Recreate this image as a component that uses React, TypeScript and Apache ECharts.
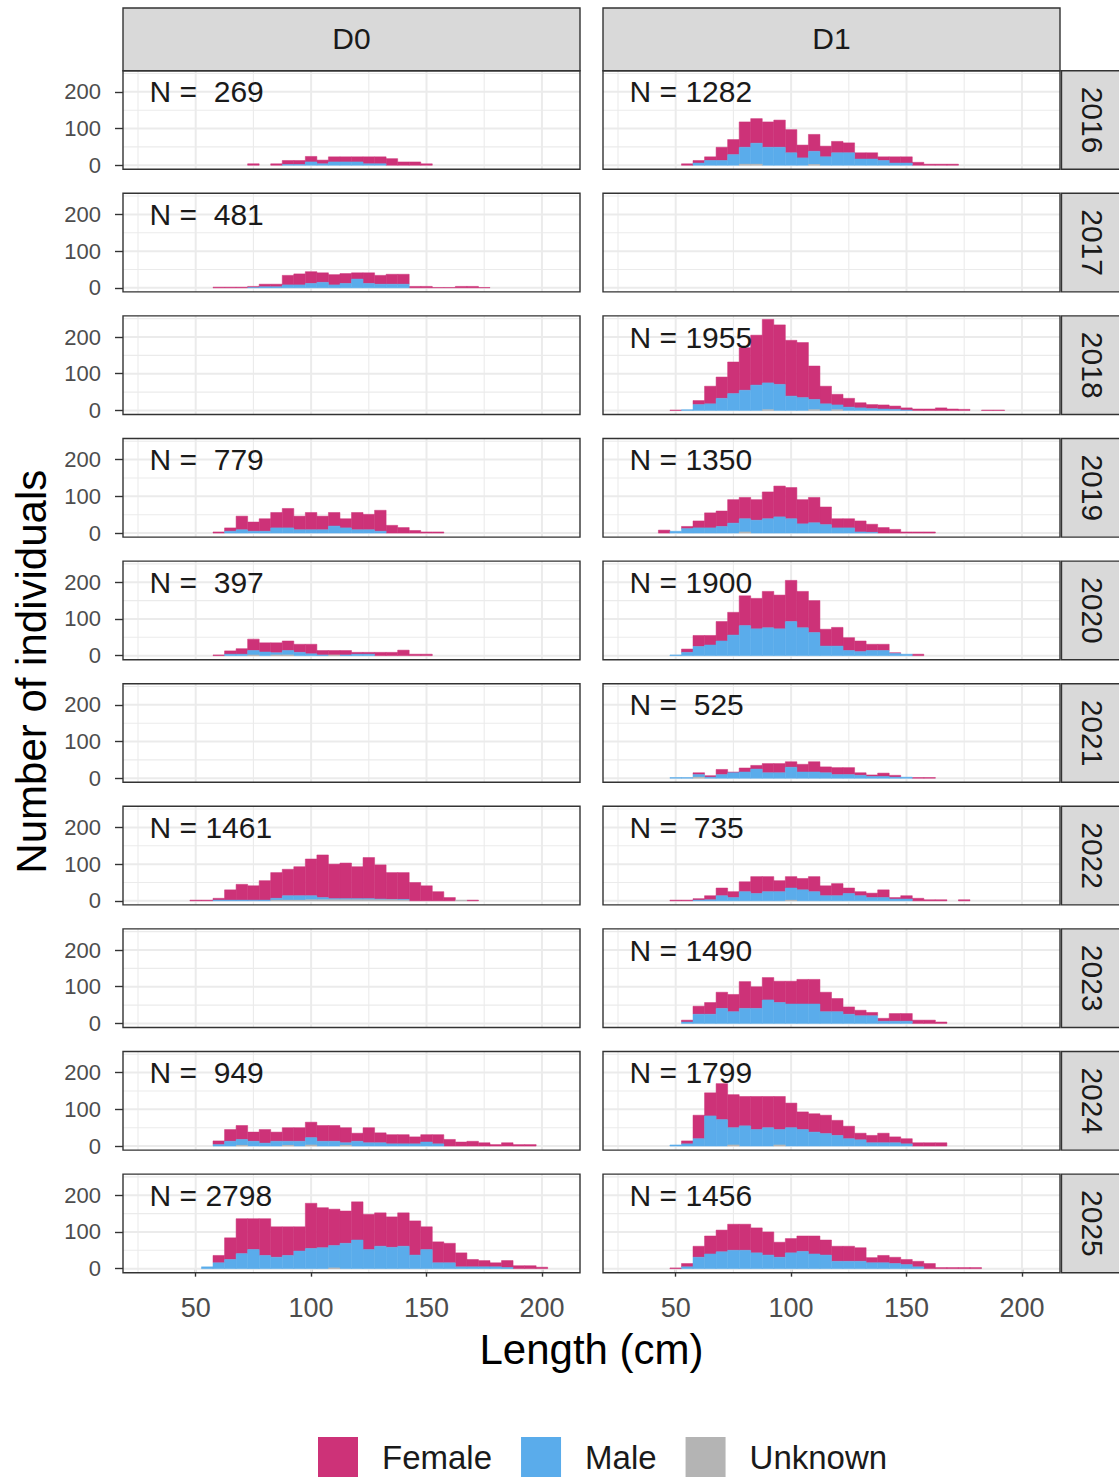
import React, { useEffect, useRef } from 'react';
import * as echarts from 'echarts';

const FONT = "'Liberation Sans', Arial, Helvetica, sans-serif";

const COLUMNS = ['D0', 'D1'];
const YEARS = [2016, 2017, 2018, 2019, 2020, 2021, 2022, 2023, 2024, 2025];
const SEXES = ['Female', 'Male', 'Unknown'];
const SEX_COLORS = ['#CD3278', '#5AACEB', '#B4B4B4'];
const BIN_WIDTH = 5;

const X_TICKS = [50, 100, 150, 200];
const X_MINOR = [25, 75, 125, 175];
const Y_TICKS = [0, 100, 200];
const Y_MINOR = [50, 150, 250];

// sample sizes per year (null = no data)
const N_D0 = [269, 481, null, 779, 397, null, 1461, null, 949, 2798];
const N_D1 = [1282, null, 1955, 1350, 1900, 525, 735, 1490, 1799, 1456];

// histogram counts per 5 cm bin; START = centre of first bin
const D0_2016_START = 75;
const D0_2016_F = [4, 0, 4, 11, 11, 15, 10, 14, 14, 14, 19, 19, 18, 9, 9, 4];
const D0_2016_M = [0, 0, 0, 2, 2, 9, 4, 9, 9, 9, 4, 4, 0, 0, 0, 0];
const D0_2016_U: number[] = [];

const D1_2016_START = 55;
const D1_2016_F = [4, 7, 10, 36, 41, 69, 67, 69, 74, 63, 35, 46, 29, 31, 27, 17, 17, 10, 17, 17, 8, 3, 3, 3];
const D1_2016_M = [0, 6, 13, 13, 29, 46, 57, 49, 49, 34, 20, 36, 23, 34, 34, 17, 17, 13, 6, 6, 0, 0, 0, 0];
const D1_2016_U = [0, 0, 0, 0, 0, 3, 3, 0, 0, 0, 0, 2];

const D0_2017_START = 60;
const D0_2017_F = [2, 2, 2, 3, 7, 7, 26, 30, 32, 26, 28, 27, 17, 29, 24, 27, 27, 4, 4, 1, 1, 4, 4, 1];
const D0_2017_M = [0, 0, 0, 1, 3, 3, 8, 8, 12, 15, 8, 12, 24, 12, 10, 10, 10, 0, 0, 0, 0, 0, 0, 0];
const D0_2017_U: number[] = [];

const D1_2018_START = 50;
const D1_2018_F = [1, 0, 11, 48, 58, 86, 116, 136, 173, 162, 152, 150, 91, 48, 29, 24, 14, 11, 11, 9, 6, 4, 4, 7, 4, 3, 0, 1, 1];
const D1_2018_M = [0, 2, 16, 18, 33, 46, 55, 69, 73, 71, 39, 35, 28, 18, 13, 9, 7, 5, 4, 3, 1];
const D1_2018_U = [0, 0, 0, 0, 0, 0, 0, 0, 2, 0, 0, 0, 2, 0, 2];

const D0_2019_START = 60;
const D0_2019_F = [3, 9, 37, 25, 34, 42, 53, 37, 47, 37, 37, 25, 47, 42, 57, 21, 15, 7, 3, 3];
const D0_2019_M = [0, 5, 9, 5, 5, 14, 14, 9, 9, 9, 19, 14, 9, 9, 5];
const D0_2019_U: number[] = [];

const D1_2019_START = 45;
const D1_2019_F = [8, 0, 6, 19, 41, 42, 64, 58, 56, 73, 84, 85, 66, 69, 48, 25, 25, 30, 22, 15, 10, 3, 3, 3];
const D1_2019_M = [0, 5, 12, 14, 14, 18, 27, 36, 35, 39, 44, 39, 25, 28, 23, 14, 14, 3, 2];
const D1_2019_U = [0, 0, 0, 0, 0, 0, 0, 3];

const D0_2020_START = 60;
const D0_2020_F = [2, 9, 15, 31, 25, 27, 26, 22, 26, 12, 12, 12, 5, 5, 9, 9, 15, 4, 4];
const D0_2020_M = [0, 4, 4, 12, 10, 6, 12, 9, 5, 2, 0, 2, 4, 4];
const D0_2020_U = [0, 0, 0, 2, 0, 2, 2, 0, 0, 0, 2];

const D1_2020_START = 50;
const D1_2020_F = [0, 9, 30, 26, 53, 62, 81, 83, 99, 92, 112, 99, 87, 46, 51, 35, 29, 17, 17, 2, 0, 4];
const D1_2020_M = [2, 9, 25, 29, 40, 56, 82, 73, 76, 73, 93, 76, 63, 26, 26, 14, 11, 14, 14, 6, 4, 0];
const D1_2020_U: number[] = [];

const D1_2021_START = 50;
const D1_2021_F = [0, 0, 5, 4, 14, 2, 11, 10, 25, 25, 15, 21, 28, 16, 19, 19, 7, 4, 9, 5, 0, 2, 2];
const D1_2021_M = [2, 2, 7, 3, 10, 15, 17, 25, 15, 15, 30, 17, 17, 15, 10, 10, 8, 5, 5, 3, 3, 0, 0];
const D1_2021_U = [0, 0, 3];

const D0_2022_START = 50;
const D0_2022_F = [2, 2, 5, 28, 43, 39, 53, 70, 72, 79, 100, 116, 94, 97, 87, 112, 93, 73, 73, 50, 41, 25, 9, 0, 2];
const D0_2022_M = [0, 0, 2, 2, 2, 2, 2, 5, 12, 12, 11, 6, 3, 3, 3, 3, 2, 1, 2];
const D0_2022_U = [0, 0, 0, 0, 0, 0, 0, 2, 2, 2, 3, 3, 3, 3, 3, 3, 3, 3, 2, 0, 0, 0, 0, 2, 0];

const D1_2022_START = 50;
const D1_2022_F = [2, 2, 4, 11, 21, 16, 27, 46, 41, 30, 31, 31, 41, 27, 33, 15, 11, 12, 21, 4, 9, 7, 3, 3, 0, 3];
const D1_2022_M = [0, 0, 2, 3, 14, 9, 25, 20, 25, 25, 33, 30, 25, 14, 14, 20, 14, 9, 9, 5, 5];
const D1_2022_U = [0, 0, 0, 0, 0, 0, 0, 0, 0, 0, 2];

const D1_2023_START = 55;
const D1_2023_F = [5, 22, 32, 44, 47, 73, 59, 61, 58, 62, 67, 67, 53, 36, 20, 15, 9, 8, 21, 21, 9, 9, 4];
const D1_2023_M = [4, 25, 25, 41, 32, 41, 41, 64, 57, 53, 53, 53, 32, 32, 25, 21, 21, 6, 6, 6];
const D1_2023_U: number[] = [];

const D0_2024_START = 60;
const D0_2024_F = [10, 32, 38, 25, 37, 25, 37, 37, 42, 43, 43, 41, 22, 41, 27, 25, 25, 19, 20, 25, 18, 11, 13, 9, 4, 9, 4, 4];
const D0_2024_M = [4, 13, 16, 13, 8, 13, 11, 13, 20, 13, 13, 7, 13, 9, 9, 6, 6, 6, 11, 6];
const D0_2024_U = [0, 0, 2, 0, 0, 0, 2, 0, 3, 0, 0, 2];

const D1_2024_START = 50;
const D1_2024_F = [0, 8, 64, 63, 98, 90, 80, 90, 85, 90, 67, 48, 50, 50, 41, 34, 18, 20, 26, 16, 14, 9, 9, 9];
const D1_2024_M = [3, 6, 20, 82, 72, 47, 55, 45, 50, 42, 50, 45, 38, 34, 29, 20, 17, 9, 9, 9, 6];
const D1_2024_U = [0, 0, 0, 0, 0, 3, 0, 0, 0, 3];

const D0_2025_START = 55;
const D0_2025_F = [0, 20, 59, 95, 84, 100, 83, 78, 66, 123, 109, 99, 88, 104, 96, 91, 83, 91, 93, 62, 57, 53, 38, 20, 17, 11, 19, 8, 8, 4];
const D0_2025_M = [5, 16, 25, 41, 52, 36, 31, 36, 48, 55, 57, 61, 69, 78, 52, 61, 58, 61, 37, 52, 16, 16, 5, 5, 5, 5, 3];
const D0_2025_U = [0, 0, 0, 0, 0, 0, 0, 0, 0, 0, 0, 2];

const D1_2025_START = 50;
const D1_2025_F = [2, 9, 30, 49, 59, 71, 71, 68, 63, 41, 39, 42, 49, 41, 41, 41, 37, 14, 20, 17, 14, 15, 14, 3, 3, 3, 3];
const D1_2025_M = [0, 5, 31, 40, 46, 50, 50, 43, 37, 31, 43, 47, 40, 37, 20, 20, 20, 16, 16, 14, 11, 5];
const D1_2025_U: number[] = [];

type Panel = { col: number; year: number; start: number; f: number[]; m: number[]; u: number[] };

const PANELS: Panel[] = [
  { col: 0, year: 2016, start: D0_2016_START, f: D0_2016_F, m: D0_2016_M, u: D0_2016_U },
  { col: 1, year: 2016, start: D1_2016_START, f: D1_2016_F, m: D1_2016_M, u: D1_2016_U },
  { col: 0, year: 2017, start: D0_2017_START, f: D0_2017_F, m: D0_2017_M, u: D0_2017_U },
  { col: 1, year: 2018, start: D1_2018_START, f: D1_2018_F, m: D1_2018_M, u: D1_2018_U },
  { col: 0, year: 2019, start: D0_2019_START, f: D0_2019_F, m: D0_2019_M, u: D0_2019_U },
  { col: 1, year: 2019, start: D1_2019_START, f: D1_2019_F, m: D1_2019_M, u: D1_2019_U },
  { col: 0, year: 2020, start: D0_2020_START, f: D0_2020_F, m: D0_2020_M, u: D0_2020_U },
  { col: 1, year: 2020, start: D1_2020_START, f: D1_2020_F, m: D1_2020_M, u: D1_2020_U },
  { col: 1, year: 2021, start: D1_2021_START, f: D1_2021_F, m: D1_2021_M, u: D1_2021_U },
  { col: 0, year: 2022, start: D0_2022_START, f: D0_2022_F, m: D0_2022_M, u: D0_2022_U },
  { col: 1, year: 2022, start: D1_2022_START, f: D1_2022_F, m: D1_2022_M, u: D1_2022_U },
  { col: 1, year: 2023, start: D1_2023_START, f: D1_2023_F, m: D1_2023_M, u: D1_2023_U },
  { col: 0, year: 2024, start: D0_2024_START, f: D0_2024_F, m: D0_2024_M, u: D0_2024_U },
  { col: 1, year: 2024, start: D1_2024_START, f: D1_2024_F, m: D1_2024_M, u: D1_2024_U },
  { col: 0, year: 2025, start: D0_2025_START, f: D0_2025_F, m: D0_2025_M, u: D0_2025_U },
  { col: 1, year: 2025, start: D1_2025_START, f: D1_2025_F, m: D1_2025_M, u: D1_2025_U },
];

// layout
const X_MIN = 18.5;
const X_MAX = 216.5;
const Y_MIN = -11;
const Y_MAX = 257.5;
const N_LABEL_X = 30;
const N_LABEL_Y = 200;
const COL_LEFT = [123, 603];
const PANEL_W = 457;
const ROW_TOP0 = 70.7;
const ROW_STEP = 122.6;
const PANEL_H = 98.6;
const STRIP_TOP = 8;
const STRIP_SIZE = 62.7;

function buildOption() {
  const grid: any[] = [];
  const xAxis: any[] = [];
  const yAxis: any[] = [];
  const series: any[] = [];

  const gridLineData = [
    ...X_TICKS.map((v) => [v, 0, 1]),
    ...X_MINOR.map((v) => [v, 0, 0]),
    ...Y_TICKS.map((v) => [v, 1, 1]),
    ...Y_MINOR.map((v) => [v, 1, 0]),
  ];

  YEARS.forEach((year, r) => {
    COLUMNS.forEach((_, c) => {
      const idx = r * 2 + c;
      grid.push({
        left: COL_LEFT[c],
        top: ROW_TOP0 + ROW_STEP * r,
        width: PANEL_W,
        height: PANEL_H,
        show: true,
        borderColor: '#333333',
        borderWidth: 1.4,
        backgroundColor: 'transparent',
        z: 10,
        containLabel: false,
        outerBoundsMode: 'none',
      });
      const bottom = r === YEARS.length - 1;
      xAxis.push({
        gridIndex: idx,
        type: 'value',
        min: X_MIN,
        max: X_MAX,
        axisLine: { show: false },
        splitLine: { show: false },
        axisTick: {
          show: bottom,
          customValues: X_TICKS,
          length: 8,
          lineStyle: { color: '#333333', width: 1.4 },
        },
        axisLabel: {
          show: bottom,
          customValues: X_TICKS,
          fontSize: 27,
          color: '#4D4D4D',
          margin: 22,
          fontFamily: FONT,
        },
      });
      yAxis.push({
        gridIndex: idx,
        type: 'value',
        min: Y_MIN,
        max: Y_MAX,
        axisLine: { show: false },
        splitLine: { show: false },
        axisTick: {
          show: c === 0,
          customValues: Y_TICKS,
          length: 8,
          lineStyle: { color: '#333333', width: 1.4 },
        },
        axisLabel: {
          show: c === 0,
          customValues: Y_TICKS,
          fontSize: 22,
          color: '#4D4D4D',
          margin: 22,
          fontFamily: FONT,
        },
      });
      // grid lines
      series.push({
        type: 'custom',
        xAxisIndex: idx,
        yAxisIndex: idx,
        silent: true,
        z: 1,
        data: gridLineData,
        renderItem: (params: any, api: any) => {
          const cs = params.coordSys;
          const v = api.value(0);
          const dir = api.value(1);
          const major = api.value(2);
          const style = { stroke: '#EBEBEB', lineWidth: major ? 2 : 1.1 };
          if (dir === 0) {
            const x = api.coord([v, 0])[0];
            return { type: 'line', shape: { x1: x, y1: cs.y, x2: x, y2: cs.y + cs.height }, style };
          }
          const y = api.coord([100, v])[1];
          return { type: 'line', shape: { x1: cs.x, y1: y, x2: cs.x + cs.width, y2: y }, style };
        },
      });
    });
  });

  PANELS.forEach((p) => {
    const r = YEARS.indexOf(p.year);
    const idx = r * 2 + p.col;
    const stacks: number[][][] = [[], [], []];
    p.f.forEach((fv, i) => {
      const u = p.u[i] || 0;
      const m = p.m[i] || 0;
      const f = fv || 0;
      const x = p.start + i * BIN_WIDTH;
      if (u > 0) stacks[2].push([x, 0, u]);
      if (m > 0) stacks[1].push([x, u, u + m]);
      if (f > 0) stacks[0].push([x, u + m, u + m + f]);
    });
    SEXES.forEach((name, s) => {
      const color = SEX_COLORS[s];
      series.push({
        type: 'custom',
        name,
        xAxisIndex: idx,
        yAxisIndex: idx,
        silent: true,
        z: 2,
        itemStyle: { color },
        encode: { x: 0, y: [1, 2] },
        data: stacks[s],
        renderItem: (params: any, api: any) => {
          const x = api.value(0);
          const b = api.value(1);
          const t = api.value(2);
          const p0 = api.coord([x - BIN_WIDTH / 2, b]);
          const p1 = api.coord([x + BIN_WIDTH / 2, t]);
          return {
            type: 'rect',
            shape: { x: p0[0], y: p1[1], width: p1[0] - p0[0], height: p0[1] - p1[1] },
            style: { fill: color, stroke: color, lineWidth: 0.5 },
          };
        },
      });
    });
    const n = (p.col === 0 ? N_D0 : N_D1)[r] as number;
    const label = 'N = ' + String(n).padStart(4, ' ');
    series.push({
      type: 'custom',
      xAxisIndex: idx,
      yAxisIndex: idx,
      silent: true,
      z: 3,
      data: [[N_LABEL_X, N_LABEL_Y]],
      renderItem: (params: any, api: any) => {
        const pt = api.coord([api.value(0), api.value(1)]);
        return {
          type: 'text',
          x: pt[0],
          y: pt[1],
          style: {
            text: label,
            fontSize: 30,
            fontFamily: FONT,
            fill: '#1A1A1A',
            align: 'left',
            verticalAlign: 'middle',
          },
        };
      },
    });
  });

  const graphic: any[] = [];
  COLUMNS.forEach((name, c) => {
    graphic.push({
      type: 'rect',
      z: 20,
      shape: { x: COL_LEFT[c], y: STRIP_TOP, width: PANEL_W, height: ROW_TOP0 - STRIP_TOP },
      style: { fill: '#D9D9D9', stroke: '#333333', lineWidth: 1.4 },
    });
    graphic.push({
      type: 'text',
      z: 21,
      x: COL_LEFT[c] + PANEL_W / 2,
      y: (STRIP_TOP + ROW_TOP0) / 2 - 1,
      style: {
        text: name,
        fontSize: 30,
        fontFamily: FONT,
        fill: '#1A1A1A',
        align: 'center',
        verticalAlign: 'middle',
        textAlign: 'center',
        textVerticalAlign: 'middle',
      },
    });
  });
  const stripLeft = COL_LEFT[1] + PANEL_W + 1.5;
  YEARS.forEach((year, r) => {
    const top = ROW_TOP0 + ROW_STEP * r;
    graphic.push({
      type: 'rect',
      z: 20,
      shape: { x: stripLeft, y: top, width: STRIP_SIZE, height: PANEL_H },
      style: { fill: '#D9D9D9', stroke: '#333333', lineWidth: 1.4 },
    });
    graphic.push({
      type: 'text',
      z: 21,
      x: stripLeft + STRIP_SIZE / 2,
      y: top + PANEL_H / 2,
      rotation: -Math.PI / 2,
      style: {
        text: String(year),
        fontSize: 30,
        fontFamily: FONT,
        fill: '#1A1A1A',
        align: 'center',
        verticalAlign: 'middle',
        textAlign: 'center',
        textVerticalAlign: 'middle',
      },
    });
  });
  graphic.push({
    type: 'text',
    z: 21,
    x: (COL_LEFT[0] + COL_LEFT[1] + PANEL_W) / 2,
    y: 1349,
    style: {
      text: 'Length (cm)',
      fontSize: 42,
      fontFamily: FONT,
      fill: '#000000',
      align: 'center',
      verticalAlign: 'middle',
      textAlign: 'center',
      textVerticalAlign: 'middle',
    },
  });
  graphic.push({
    type: 'text',
    z: 21,
    x: 31,
    y: ROW_TOP0 + (ROW_STEP * 9 + PANEL_H) / 2,
    rotation: Math.PI / 2,
    style: {
      text: 'Number of individuals',
      fontSize: 42,
      fontFamily: FONT,
      fill: '#000000',
      align: 'center',
      verticalAlign: 'middle',
      textAlign: 'center',
      textVerticalAlign: 'middle',
    },
  });

  return {
    animation: false,
    backgroundColor: '#FFFFFF',
    textStyle: { fontFamily: FONT },
    grid,
    xAxis,
    yAxis,
    series,
    graphic,
    legend: {
      data: SEXES,
      left: 318,
      top: 1437,
      padding: 0,
      orient: 'horizontal',
      icon: 'rect',
      itemWidth: 40,
      itemHeight: 40,
      itemGap: 29,
      selectedMode: false,
      textStyle: {
        fontSize: 33,
        color: '#1A1A1A',
        fontFamily: FONT,
        padding: [0, 0, 0, 19],
      },
    },
  };
}

export default function App() {
  const ref = useRef<HTMLDivElement>(null);
  useEffect(() => {
    document.body.style.margin = '0';
    if (!ref.current) return;
    const chart = echarts.init(ref.current, undefined, { renderer: 'svg' });
    chart.setOption(buildOption() as any);
    return () => chart.dispose();
  }, []);
  return <div ref={ref} style={{ width: 1119, height: 1479 }} />;
}
